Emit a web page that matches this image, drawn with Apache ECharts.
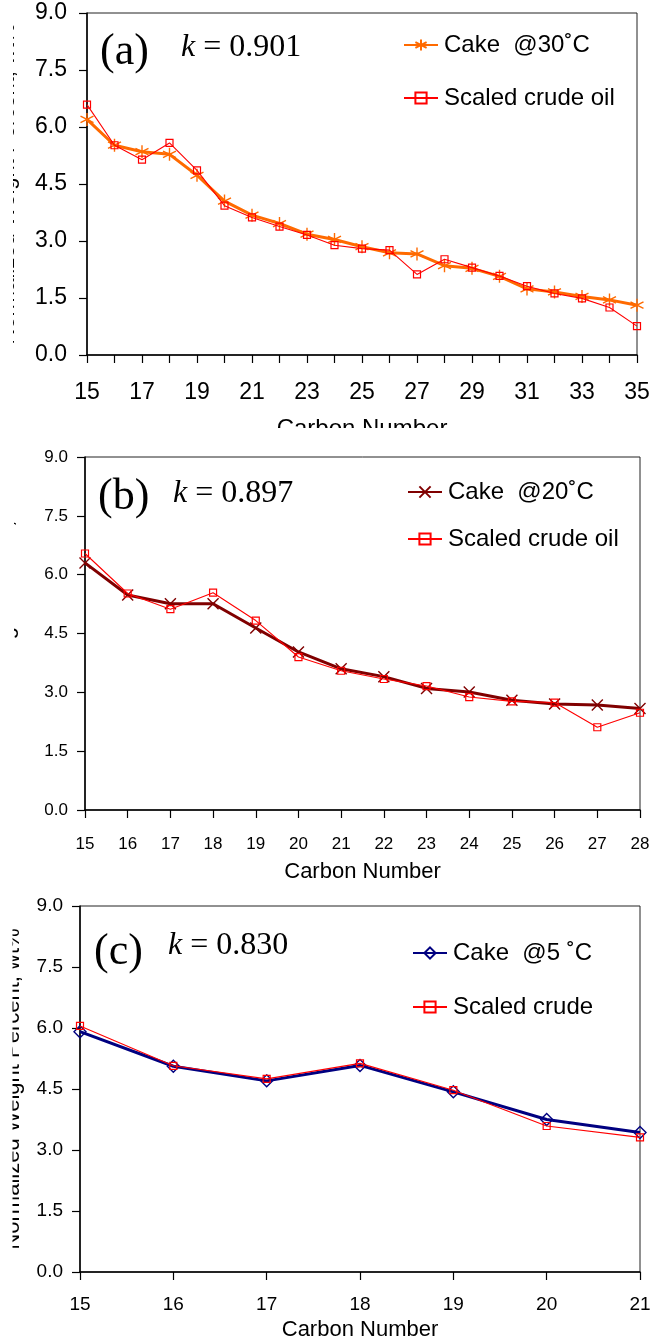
<!DOCTYPE html>
<html>
<head>
<meta charset="utf-8">
<script src="https://cdn.jsdelivr.net/npm/echarts@6/dist/echarts.min.js"></script>
<style>
html,body{margin:0;padding:0;background:#fff;}
#c{width:652px;height:1343px;}
</style>
</head>
<body>
<div id="c"></div>
<script>
// ---- data ----
const carbonA = [15,16,17,18,19,20,21,22,23,24,25,26,27,28,29,30,31,32,33,34,35];
const cake30  = [6.20,5.52,5.35,5.28,4.73,4.05,3.68,3.46,3.18,3.04,2.85,2.69,2.66,2.35,2.28,2.07,1.74,1.66,1.54,1.45,1.31];
const crudeA  = [6.59,5.52,5.14,5.58,4.86,3.93,3.62,3.38,3.16,2.89,2.80,2.76,2.12,2.52,2.30,2.08,1.81,1.62,1.49,1.25,0.76];

const carbonB = [15,16,17,18,19,20,21,22,23,24,25,26,27,28];
const cake20  = [6.30,5.48,5.26,5.26,4.64,4.03,3.60,3.40,3.10,3.01,2.80,2.70,2.68,2.59];
const crudeB  = [6.54,5.52,5.12,5.54,4.83,3.90,3.55,3.34,3.16,2.88,2.77,2.74,2.11,2.48];

const carbonC = [15,16,17,18,19,20,21];
const cake5   = [5.91,5.06,4.70,5.08,4.43,3.75,3.43];
const crudeC  = [6.05,5.07,4.75,5.13,4.47,3.59,3.31];

const panelTags = ['(a)','(b)','(c)'];
const kValues   = ['0.901','0.897','0.830'];
const seriesNames = ['Cake  @30˚C','Scaled crude oil','Cake  @20˚C','Scaled crude oil ','Cake  @5 ˚C','Scaled crude'];
const xName = 'Carbon Number';
const yName = 'Normalized Weight Percent, wt%';

// ---- layout ----
const SANS = '"Liberation Sans", Arial, sans-serif';
const SERIF = '"Liberation Serif", "Times New Roman", serif';
const grids = [
  {left:87, top:13,  width:550, height:342},
  {left:85, top:457, width:555, height:353},
  {left:80, top:906, width:560, height:366}
];
const tickFont = [23,17,19];
const yMargin = [20,17,17];
const xMargin = [26,26,23];
const xNameGap = [62,51,47];
const xNameSize = [24,22,22];
const yNameGap = [68,67,56];

const asterisk = 'path://M5,0L5,10M0.7,2.5L9.3,7.5M0.7,7.5L9.3,2.5';
const xmark = 'path://M0,0L10,10M10,0L0,10';

const chart = echarts.init(document.getElementById('c'), null, {renderer:'canvas'});

const xAxes = [], yAxes = [];
const cats = [carbonA, carbonB, carbonC];
for (let i=0;i<3;i++){
  xAxes.push({
    type:'category', gridIndex:i, data:cats[i], boundaryGap:false,
    name:xName, nameLocation:'middle', nameGap:xNameGap[i],
    nameTextStyle:{fontFamily:SANS, fontSize:xNameSize[i], color:'#000'},
    axisLine:{lineStyle:{color:'#000', width:1.5}},
    axisTick:{show:true, interval:0, length:8, lineStyle:{color:'#000', width:1.2}},
    axisLabel:{interval: i===0 ? 1 : 0, margin:xMargin[i], fontFamily:SANS, fontSize:tickFont[i], color:'#000'},
    splitLine:{show:false}
  });
  yAxes.push({
    type:'value', gridIndex:i, min:0, max:9, interval:1.5,
    name:yName, nameLocation:'middle', nameGap:yNameGap[i],
    nameTextStyle:{fontFamily:SANS, fontSize:22, color:'#000'},
    axisLine:{show:true, lineStyle:{color:'#000', width:1.5}},
    axisTick:{show:true, length:8, lineStyle:{color:'#000', width:1.2}},
    axisLabel:{margin:yMargin[i], fontFamily:SANS, fontSize:tickFont[i], color:'#000', formatter:v=>v.toFixed(1)},
    splitLine:{show:false}
  });
}

function cakeSeries(name, data, idx, color, symbol, size){
  return {
    type:'line', name:name, data:data, xAxisIndex:idx, yAxisIndex:idx,
    symbol:symbol, symbolSize:size, showAllSymbol:true,
    lineStyle:{color:color, width:3},
    itemStyle:{color:'transparent', borderColor:color, borderWidth:1.4},
    emphasis:{disabled:true}, animation:false, z:2
  };
}
function crudeSeries(name, data, idx){
  return {
    type:'line', name:name, data:data, xAxisIndex:idx, yAxisIndex:idx,
    symbol:'rect', symbolSize:7, showAllSymbol:true,
    lineStyle:{color:'#FF0000', width:1.1},
    itemStyle:{color:'rgba(255,255,255,0)', borderColor:'#FF0000', borderWidth:1.2},
    emphasis:{disabled:true}, animation:false, z:3
  };
}

const series = [
  cakeSeries(seriesNames[0], cake30, 0, '#FF6A00', asterisk, 13),
  crudeSeries(seriesNames[1], crudeA, 0),
  cakeSeries(seriesNames[2], cake20, 1, '#800000', xmark, 11),
  crudeSeries(seriesNames[3], crudeB, 1),
  cakeSeries(seriesNames[4], cake5, 2, '#000080', 'diamond', 12),
  crudeSeries(seriesNames[5], crudeC, 2)
];

const legendPos = [
  {left:403, top:33, gap:29},
  {left:407, top:480, gap:23},
  {left:412, top:941, gap:30}
];
const legends = legendPos.map((p,i)=>({
  orient:'vertical', left:p.left, top:p.top, itemGap:p.gap, padding:0,
  itemWidth:34, itemHeight:14, selectedMode:false,
  data:[seriesNames[2*i], seriesNames[2*i+1]],
  textStyle:{fontFamily:SANS, fontSize:24, lineHeight:24, color:'#000', padding:[0,0,0,1]}
}));

const tagPos = [
  {x:100, y:52, kx:181, ky:48},
  {x:98,  y:497, kx:173, ky:494},
  {x:94,  y:952, kx:168, ky:946}
];
const graphics = [];
tagPos.forEach((p,i)=>{
  graphics.push({type:'text', x:p.x, y:p.y, z:50,
    style:{text:panelTags[i], fontFamily:SERIF, fontSize:44, fill:'#000', verticalAlign:'middle', align:'left'}});
  graphics.push({type:'text', x:p.kx, y:p.ky, z:50,
    style:{text:'{i|k} = ' + kValues[i], fontFamily:SERIF, fontSize:32, fill:'#000', verticalAlign:'middle', align:'left',
      rich:{i:{fontFamily:SERIF, fontSize:32, fontStyle:'italic', fill:'#000'}}}});
});
// white masks (original figure is cropped)
graphics.push({type:'rect', z:100, shape:{x:0,y:0,width:13,height:440}, style:{fill:'#fff'}});
graphics.push({type:'rect', z:100, shape:{x:0,y:440,width:14,height:450}, style:{fill:'#fff'}});
graphics.push({type:'rect', z:100, shape:{x:0,y:890,width:12.5,height:453}, style:{fill:'#fff'}});
graphics.push({type:'rect', z:100, shape:{x:0,y:428,width:652,height:18}, style:{fill:'#fff'}});

chart.setOption({
  backgroundColor:'#fff',
  animation:false,
  grid: grids.map(g=>Object.assign({show:true, borderColor:'#222', borderWidth:1, backgroundColor:'transparent', containLabel:false, outerBoundsMode:'none'}, g)),
  xAxis:xAxes, yAxis:yAxes,
  legend:legends,
  series:series,
  graphic:{elements:graphics}
});
</script>
</body>
</html>
